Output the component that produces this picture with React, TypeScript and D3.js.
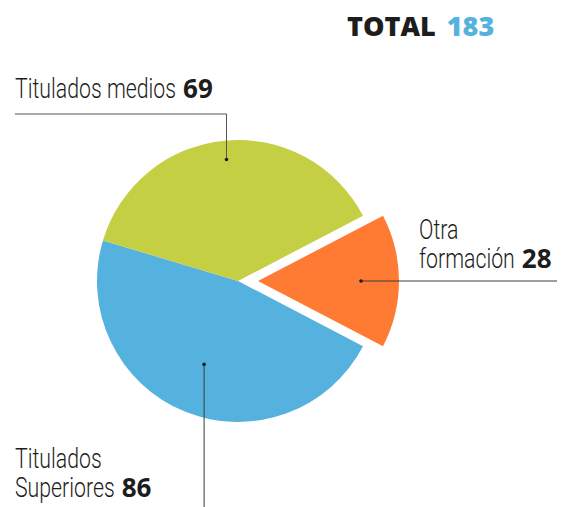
import React, { useEffect, useRef } from "react";
import * as d3 from "d3";

// chart data
const categories = ["Otra formación", "Titulados Superiores", "Titulados medios"];
const values = [28, 86, 69];
const colors = ["#ff7b33", "#55b2de", "#c5cf44"];
const total = 183;

const width = 566;
const height = 507;

const App = () => {
  const ref = useRef<SVGSVGElement | null>(null);

  useEffect(() => {
    const svg = d3.select(ref.current);
    svg.selectAll("*").remove();

    const cx = 238;
    const cy = 281;
    const radius = 141;
    const explode = 20;

    // orange slice centered on the right (90deg)
    const firstAngle = (values[0] / d3.sum(values)) * 2 * Math.PI;
    const start = Math.PI / 2 - firstAngle / 2;

    const pie = d3
      .pie<number>()
      .sort(null)
      .startAngle(start)
      .endAngle(start + 2 * Math.PI);
    const arcs = pie(values);
    const arc = d3.arc<d3.PieArcDatum<number>>().innerRadius(0).outerRadius(radius);

    const g = svg.append("g").attr("transform", `translate(${cx},${cy})`);

    const offset = (d: d3.PieArcDatum<number>, i: number) => {
      if (i !== 0) return [0, 0];
      const a = (d.startAngle + d.endAngle) / 2;
      return [Math.sin(a) * explode, -Math.cos(a) * explode];
    };

    g.selectAll("path")
      .data(arcs)
      .enter()
      .append("path")
      .attr("d", arc)
      .attr("fill", (_, i) => colors[i])
      .attr("transform", (d, i) => {
        const [ox, oy] = offset(d, i);
        return `translate(${ox},${oy})`;
      });

    // leader dots: position along each slice's mid angle
    const dotRadius = [103, 90, 122];
    const dots = arcs.map((d, i) => {
      const a = (d.startAngle + d.endAngle) / 2;
      const [ox, oy] = offset(d, i);
      return [cx + ox + Math.sin(a) * dotRadius[i], cy + oy - Math.cos(a) * dotRadius[i]];
    });

    const leaders = svg.append("g").attr("fill", "none").attr("stroke", "#3c3c3b").attr("stroke-width", 1);

    // Otra formación
    leaders.append("path").attr("d", `M${dots[0][0]},${dots[0][1]}H557`);
    // Titulados Superiores
    leaders.append("path").attr("d", `M${dots[1][0]},${dots[1][1]}V${height}`);
    // Titulados medios
    leaders.append("path").attr("d", `M15,114H${dots[2][0]}V${dots[2][1]}`).attr("stroke", "#555");

    svg
      .append("g")
      .selectAll("circle")
      .data(dots)
      .enter()
      .append("circle")
      .attr("cx", (d) => d[0])
      .attr("cy", (d) => d[1])
      .attr("r", 1.8)
      .attr("fill", "#1d1d1b");

    const labelFont = "Roboto, 'Liberation Sans', sans-serif";
    const numFont = "'Open Sans', sans-serif";
    const textColor = "#1d1d1b";
    const squeeze = 0.76;
    const lineH = 29;

    // condensed label lines, bold number after the last line
    const addLabel = (x: number, y: number, lines: string[], num: number) => {
      const t = svg
        .append("text")
        .attr("transform", `translate(${x},${y}) scale(${squeeze},1)`)
        .attr("fill", textColor)
        .style("font-family", labelFont)
        .style("font-weight", 300)
        .style("font-size", "28px");
      let last: SVGTSpanElement | null = null;
      lines.forEach((line, i) => {
        last = t
          .append("tspan")
          .attr("x", 0)
          .attr("y", i * lineH)
          .text(line)
          .node();
      });
      const lastWidth = last ? (last as SVGTSpanElement).getComputedTextLength() * squeeze : 0;
      svg
        .append("text")
        .attr("x", x + lastWidth + 7)
        .attr("y", y + (lines.length - 1) * lineH)
        .attr("fill", textColor)
        .style("font-family", numFont)
        .style("font-weight", 700)
        .style("font-size", "26px")
        .text(String(num));
    };

    addLabel(15, 98, [categories[2]], values[2]);
    addLabel(419, 239, ["Otra", "formación"], values[0]);
    addLabel(15, 468, ["Titulados", "Superiores"], values[1]);

    const title = svg
      .append("text")
      .attr("x", 347)
      .attr("y", 36)
      .style("font-family", numFont)
      .style("font-weight", 800)
      .style("font-size", "27px");
    title.append("tspan").attr("fill", textColor).text("TOTAL");
    title.append("tspan").attr("fill", "#55b2de").attr("dx", 11).text(String(total));
  }, []);

  return (
    <svg
      ref={ref}
      width={width}
      height={height}
      style={{ position: "absolute", left: 0, top: 0, background: "#fff" }}
    />
  );
};

export default App;
